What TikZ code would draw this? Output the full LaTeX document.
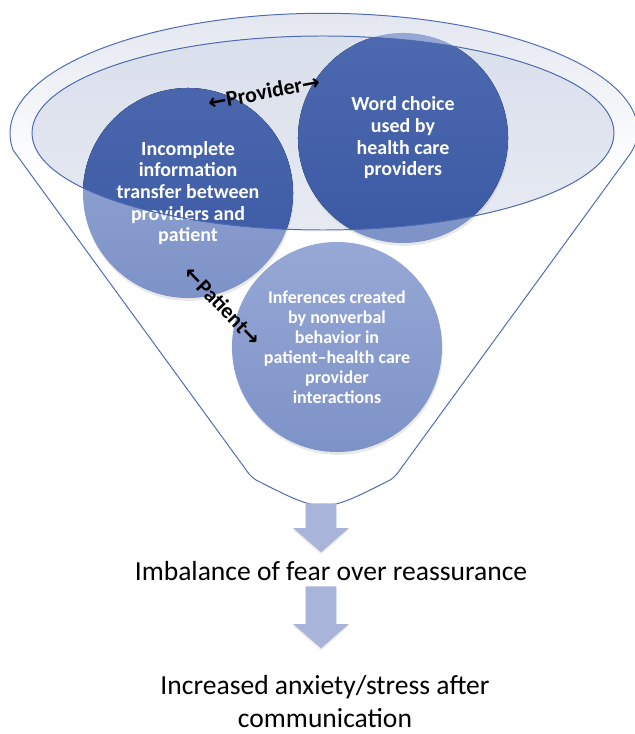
\documentclass[tikz,border=0pt]{standalone}
\usepackage{fontspec}
\setmainfont{Carlito}
\newfontfamily\arrowfont{DejaVu Sans}
\usetikzlibrary{positioning,shapes.arrows,shadows}
\definecolor{rimline}{HTML}{4E6CB4}
\definecolor{rimtop}{HTML}{E2E6EF}
\definecolor{bowltop}{HTML}{D9DFEC}
\definecolor{bowlbot}{HTML}{E7EAF2}
\definecolor{darktop}{HTML}{4D69AF}
\definecolor{darkbot}{HTML}{3B5AA4}
\definecolor{lighttop}{HTML}{97A8D5}
\definecolor{lightbot}{HTML}{7D92C7}
\definecolor{arrowblue}{HTML}{A8B4DA}
\pgfdeclareverticalshading{rimshade}{100bp}{color(0bp)=(white); color(25bp)=(white);
  color(59bp)=(white); color(75bp)=(rimtop); color(100bp)=(rimtop)}
\newcommand{\larr}{{\arrowfont\bfseries ←}}
\newcommand{\rarr}{{\arrowfont\bfseries →}}

\begin{document}
\begin{tikzpicture}[x=0.025cm,y=-0.025cm,
    bubble/.style={circle,inner sep=0pt,minimum size=5.25cm,align=center,text=white,
      top color=lighttop,bottom color=lightbot,
      drop shadow={opacity=0.18,shadow xshift=0.5pt,shadow yshift=-2pt},
      path picture={\fill[top color=darktop,bottom color=darkbot] (bowlc) ellipse [x radius=7.275cm,y radius=2.425cm];},
      font=\bfseries\fontsize{14.2}{15.4}\selectfont},
    pair/.style={font=\bfseries\fontsize{15.5}{17}\selectfont,inner sep=0pt},
    blockarrow/.style={single arrow,shape border rotate=270,fill=arrowblue,draw=none,
      inner sep=15*0.025cm,single arrow head extend=12.5*0.025cm,single arrow tip angle=98,
      drop shadow={opacity=0.15,shadow xshift=0pt,shadow yshift=-1.5pt}},
    result/.style={font=\fontsize{19.6}{22.8}\selectfont,align=center,inner sep=0pt}]
  \fill[white] (0,0) rectangle (634,734);
  \useasboundingbox (0,0) rectangle (634,734);
  \coordinate (bowlc) at (323,133);
  % funnel
  \shade[shading=rimshade] (13,150) -- (252,478) .. controls (323,514) .. (394,478) -- (633,150)
    arc[start angle=8,end angle=-188,x radius=313,y radius=120] -- cycle;
  \fill[top color=bowltop,bottom color=bowlbot] (bowlc) ellipse [x radius=291,y radius=97];
  \draw[rimline,line width=0.7pt,rounded corners=4pt] (13,150) -- (252,478) .. controls (323,514) .. (394,478) -- (633,150)
    arc[start angle=8,end angle=-188,x radius=313,y radius=120];
  \node[bubble] (inc) at (188,193) {Incomplete\\information\\transfer between\\providers and\\patient};
  \node[bubble] (word) at (403,138) {Word choice\\used by\\health care\\providers};
  \node[bubble,font=\bfseries\fontsize{12.8}{14.2}\selectfont] (infer) at (337,347)
    {Inferences created\\by nonverbal\\behavior in\\patient–health care\\provider\\interactions};
  \draw[rimline,line width=0.7pt] (bowlc) ellipse [x radius=291,y radius=97];
  \node[pair,rotate=11] (prov) at (264,92) {\larr Provider\rarr};
  \node[pair,rotate=-46] (pat) at (223,306) {\larr Patient\rarr};
  % outcome chain
  \node[blockarrow,minimum height=49*0.025cm,anchor=tail] (arr1) at (321,503) {};
  \node[result,anchor=base] (imb) at (331,580) {Imbalance of fear over reassurance};
  \node[blockarrow,minimum height=62*0.025cm,anchor=tail] (arr2) at (321,586) {};
  \node[result,anchor=base] (anx) at (325,727) {Increased anxiety/stress after\\communication};
\end{tikzpicture}
\end{document}
